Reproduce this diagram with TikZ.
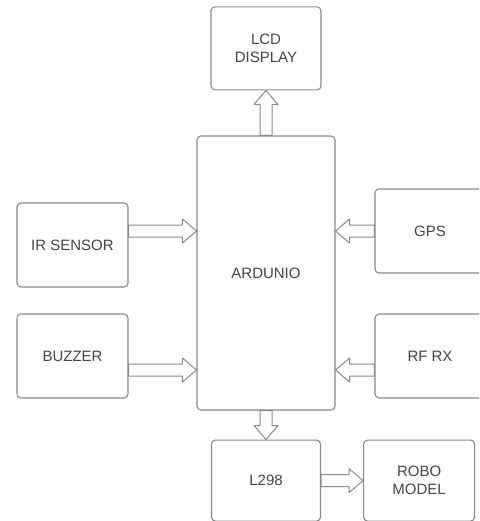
\documentclass[tikz,border=0pt]{standalone}
\usepackage{fontspec}
\setmainfont{Liberation Sans}
\usepackage{tikz}
\usetikzlibrary{positioning, calc}
\definecolor{boxgray}{RGB}{138, 138, 138}
\definecolor{textgray}{RGB}{70, 70, 70}

\begin{document}
\begin{tikzpicture}[x=1pt, y=-1pt, node distance=40pt,
    blockbox/.style={draw=boxgray, line width=1.1pt, rounded corners=4pt, fill=white,
        text=textgray, align=center, inner sep=0pt, font=\fontsize{15}{18}\selectfont},
    fatarrow/.style={draw=boxgray, line width=1pt, fill=white, line join=round,
        to path={let \p1=(\tikztostart), \p2=(\tikztotarget) in
            ($(\p1)!6pt!90:(\p2)$) -- ($(\p2)!14pt!(\p1)!6pt!90:(\p2)$)
            -- ($(\p2)!14pt!(\p1)!12pt!90:(\p2)$) -- (\p2)
            -- ($(\p2)!14pt!(\p1)!12pt!-90:(\p2)$) -- ($(\p2)!14pt!(\p1)!6pt!-90:(\p2)$)
            -- ($(\p1)!6pt!-90:(\p2)$) -- cycle}}]
    \path[use as bounding box, clip] (0,0) rectangle (479,521);

    % Controller in the middle
    \node [blockbox, minimum width=138pt, minimum height=274pt] (ard) at (266,273) {ARDUNIO};

    % Output above and below
    \node [blockbox, minimum width=110pt, minimum height=83pt, above=45pt of ard] (lcd) {LCD\\DISPLAY};
    \node [blockbox, minimum width=109pt, minimum height=81pt, below=29pt of ard] (l298) {L298};
    \node [blockbox, minimum width=111pt, minimum height=81pt, right=42pt of l298] (robo) {ROBO\\MODEL};

    % Inputs on both sides
    \node [blockbox, minimum width=111pt, minimum height=84pt] (ir) at (72.5,245) {IR SENSOR};
    \node [blockbox, minimum width=111pt, minimum height=84pt] (buzzer) at (72.5,356) {BUZZER};
    \node [blockbox, minimum width=110pt, minimum height=84pt] (gps) at (430,231) {GPS};
    \node [blockbox, minimum width=110pt, minimum height=84pt] (rfrx) at (430,356) {RF RX};
    \coordinate (rflevel) at ([yshift=-14pt]rfrx.west);

    % Block arrows
    \draw [fatarrow] (ard.north) to (lcd.south);
    \draw [fatarrow] (ard.south) to (l298.north);
    \draw [fatarrow] (l298.east) to (robo.west);
    \draw [fatarrow] (ir.east |- gps.west) to (ard.west |- gps.west);
    \draw [fatarrow] (buzzer.east |- rflevel) to (ard.west |- rflevel);
    \draw [fatarrow] (gps.west) to (ard.east |- gps.west);
    \draw [fatarrow] (rflevel) to (ard.east |- rflevel);
\end{tikzpicture}
\end{document}
